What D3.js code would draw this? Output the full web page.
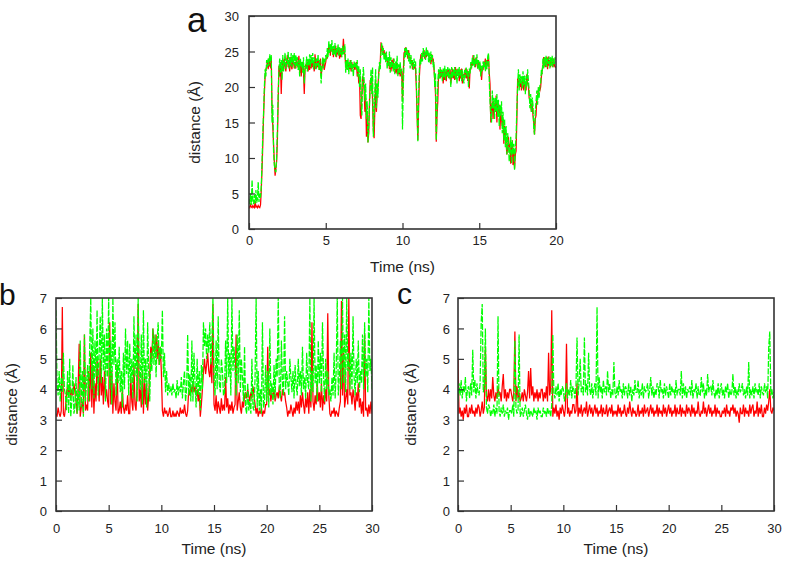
<!DOCTYPE html>
<html>
<head>
<meta charset="utf-8">
<script src="https://cdnjs.cloudflare.com/ajax/libs/d3/7.8.5/d3.min.js"></script>
<style>
  html, body { margin: 0; padding: 0; background: #fff; }
  svg { display: block; font-family: "Liberation Sans", Arial, Helvetica, sans-serif; }
</style>
</head>
<body>
<svg id="chart" width="787" height="561"></svg>
<script>
// ---------- DATA ----------
// Panel a: time 0..20 ns, one value every 0.05 ns
const greenA = [
 4.2,3.5,5.0,3.4,6.9,4.0,3.5,4.8,3.6,5.5, 3.7,4.2,6.6,3.8,5.0,4.4,6.0,9.5,13.5,16.5,
 20,22.5,21.5,23.8,22.8,24,23,24.6,23.5,24.5, 15,17.5,11,9,8.3,8,10,14,19,22.5,
 24,22,23.8,21,24.5,22.2,23.5,24.8,22.5,24, 23.2,25,22.6,24.2,23,24.8,22.8,24.5,23.2,24.8,
 22.5,24.5,23,24.2,22.4,23.8,21.5,24,22.8,23.5, 22,24.2,20.5,23,22.6,24.3,22.2,24,23,24.6,
 22.8,24.5,23.2,24.8,22.5,24.2,23.6,22.4,24,23, 24.6,22.4,23.8,22.8,20.5,23,24.2,22.6,24,23.5,
 24.5,23.8,25.5,24.2,26.5,24.8,26,25,26.6,24.5, 25.8,24.6,26.2,24.2,25.5,24.8,26,24.4,25.6,24.6,
 25.5,24.2,25.8,24.6,25.2,26,22,23.8,22.4,24, 21.8,23.5,22.6,23.8,22.2,23.2,21.5,23.6,22.8,23.4,
 22.5,23.8,21.5,23,20,22.5,18,16,20.5,22.8, 21,18,20.5,15.5,18,12.2,14,17.5,20,22.5,
 19,22.8,13,16,19.5,22.5,17,20.5,18.5,21.5, 23.5,22.5,25,26.2,24.5,25.5,23.8,24.8,23.5,25,
 22.5,24.2,23,25,22,24.2,22.8,23.5,22.2,24, 21.8,23.6,22.5,24.4,21.5,23.2,22,23.5,21.8,22.6,
 14,20,23.5,25.5,24.2,25.6,24.5,25.2,23.6,24.8, 22.6,24.5,23,23.8,22.4,24,22.8,23.6,21,17,
 12.3,19,22.5,24,23.2,24.8,23.6,25.5,24.2,25, 23.8,25.6,24.4,25.2,23.5,24.8,23.4,25,23.8,24.5,
 22.8,23.5,20,22,12.5,17,20.5,22.5,21.2,22.8, 21.5,22.4,20.8,22.6,21.4,23,21,22.5,21.6,22.8,
 21.2,22.6,21.5,20,22.8,21.2,22.5,21.6,22.8,21, 22.4,20.5,22.6,21.3,22.8,21.6,22.4,20.8,22.5,21.5,
 20.5,22.4,21.3,22.8,21.6,22.2,20,22.6,21.8,23.5, 22.6,24.2,23,24.5,22.8,24,23.2,24.6,22.6,23.8,
 22.4,23.6,21.5,23,22.2,23.6,22.8,23.5,22.2,23.8, 22.5,24.2,24.8,21,18,16,15,19.5,17,18.5,
 15.5,18.5,16.5,19,15.8,18.2,14.5,17.5,16,18, 13.5,16.5,12.5,15.5,11.5,14.5,10.5,13.5,12,9.5,
 11,13,9.2,12.5,10.5,12,8.3,11.5,13,17, 20,22.5,19.5,21.8,20.5,21.5,19.8,22.2,20.2,21.6,
 19,21.5,20,22.5,21,19.5,17,19,16.5,18.5, 17.5,14.2,13.3,16.5,18,19.5,17.5,20,18.5,20.2,
 20.5,22.5,21.8,24,22.6,24.2,23,24.4,22.8,24, 23.2,24.3,22.6,24.2,23,24.4,22.8,24,23.2,24.2,
 23.5
];
const redA = [
 3.2,3.0,3.4,3.1,3.0,3.3,3.1,3.0,4.0,3.1, 3.2,3.0,3.3,3.1,3.0,3.4,5.5,8.5,12,16,
 19,21.5,22.5,22.8,23.5,22.5,24,23,22.8,24.2, 17,14.5,12,9.5,7.5,8.5,9.5,12.5,18,23,
 21.5,23.5,19,22.8,23.8,22.5,24,23,22.2,23.5, 24.5,22.8,23.8,22.2,24.2,23,22.5,24,23.5,22.6,
 23.5,22.6,24,23.2,22.8,24.4,22,23.2,21.5,22.8, 23.5,22.2,19,22.5,23.2,22.6,23.6,22.2,23.5,22.4,
 23.8,22.6,24.2,22.8,23.5,22.2,24.6,23,22.6,24, 22.8,23.8,22.4,24,21.5,22.6,23.2,24,22.4,23,
 23.5,24.5,24,25.5,24.8,25.8,24.4,26,25,25.6, 24.2,25.4,24.8,25.8,24.2,25.2,24.6,25.6,24,25.4,
 24.2,25.4,24.8,26.8,25,24.6,23,22.5,23.8,22.8, 23.2,22.5,23.8,22.2,23.5,22.6,23.2,22.8,22.4,23,
 23.5,21.5,22.6,20.5,21.5,16,15.5,19,21.5,21, 19.5,16.5,18.5,13,16,12.2,13.5,18,21,20.5,
 21.5,18,14,12.8,17,21,16.5,19,20,22, 22.8,23.5,26.3,25,25.8,24.5,25.2,24,24.8,23.6,
 24,23,23.8,22.5,23.5,22.2,23.8,22.6,24,22.4, 22.8,22,23.5,21.8,22.6,21.8,22.8,21.5,22.4,22.2,
 18,22,24.8,25,25.6,24.5,24.8,24,25.2,23.8, 24.2,23.2,23.8,22.5,23.5,22.6,23.2,22.4,20,16,
 12.5,17,21.5,23.5,24.6,23.8,24.4,24.8,25.2,24, 24.6,24.2,25.2,24.4,24.8,23.6,24.2,23.2,24.6,23.6,
 24,22.6,21,19,12.3,16,18,21.8,22.4,21.2, 22.5,21.4,22.2,20.5,22.4,21,22.2,20.8,22.5,21.5,
 22.4,21.2,22.5,20.5,21.8,22.6,21.2,22.4,21,22.8, 21.4,22.5,21.6,22.2,20.8,22.5,21.2,22.6,20.5,21.8,
 21.5,21.8,22.6,21.2,22.5,20.8,22.2,19.8,22.4,22.5, 23.5,23,24.5,23.2,24,22.8,24.2,23.5,22.6,23.2,
 23.5,22.2,23,21,22.6,22.5,23.6,23.2,24,22.5, 23.8,23,24.5,22,20.5,15,17,18,15.5,18,
 17,16.5,18.8,15,17.8,16.5,17.5,14,16.5,15.5, 14.5,15.5,12,14.5,13.5,12,10.5,11.5,13,11.5,
 12,9.2,11,12.5,9,11,8.5,10.5,11,15.5, 21,20.8,20.5,20,21.2,19.5,20.8,21,19.5,20.6,
 20.5,19.5,21.8,20.5,20.2,18.5,18,17.5,16.5,17.8, 16,15,13.3,15.5,16,18.5,18.8,19.5,19.8,19.5,
 20,21.5,22.4,23,24.2,23.2,22.8,23.8,24.2,22.5, 24.3,23,23.8,22.8,24,23.4,22.8,24,23,22.8,
 22.8
];

// Panel b: time 0..30 ns, one value every 0.1 ns
const greenB = [
 6.6,4.2,3.8,4.6,3.6,4.4,3.9,5.2,4.0,3.8,
 3.3,4.6,3.2,5.0,3.1,3.6,4.8,3.2,3.4,4.4,
 3.2,4.0,3.3,5.6,3.4,4.6,3.1,5.8,3.6,4.2,
 4.8,3.6,5.4,7.0,4.0,6.0,3.7,5.6,4.4,6.6,
 3.8,5.2,6.4,4.2,7.0,4.6,5.8,3.6,6.0,4.4,
 7.0,4.0,5.6,3.5,7.0,4.8,6.2,3.8,5.0,4.2,
 5.4,3.9,4.6,3.4,5.2,4.0,6.0,4.5,5.6,3.8,
 5.5,4.2,5.0,3.7,6.4,4.4,5.8,3.6,7.0,4.6,
 4.0,5.8,3.5,6.6,4.2,5.0,3.4,6.2,4.6,3.6,
 5.2,4.6,6.0,4.8,5.8,4.4,5.6,6.2,4.8,5.4,
 5.0,6.6,4.4,5.2,3.9,4.6,3.8,4.2,3.9,4.1,
 3.8,4.2,3.9,4.0,3.7,4.3,3.8,4.1,3.9,4.4,
 3.7,4.2,4.6,3.6,4.0,5.8,3.8,4.5,3.6,5.6,
 3.6,5.2,4.2,3.4,5.0,3.8,4.6,3.3,4.8,4.0,
 6.2,5.4,6.0,5.0,5.8,5.2,6.2,4.8,5.6,7.0,
 4.4,3.8,5.6,4.0,6.4,4.2,3.9,5.0,4.6,3.8,
 3.9,5.6,4.2,7.0,4.4,5.2,3.8,7.0,4.6,5.4,
 4.6,3.8,5.8,4.2,6.6,3.9,5.0,4.4,3.6,5.4,
 3.4,3.2,4.2,3.3,3.6,3.2,5.0,3.4,3.3,4.4,
 7.0,3.4,4.6,3.3,4.0,3.2,6.2,3.4,3.6,4.8,
 3.6,4.6,3.4,6.0,3.8,4.2,3.5,4.8,3.7,5.0,
 4.4,7.0,4.0,3.7,5.6,4.2,3.8,6.4,4.0,4.6,
 4.2,3.8,5.0,4.4,3.9,4.6,3.7,4.8,4.1,3.8,
 5.0,4.1,4.6,3.8,5.4,4.0,4.4,3.7,5.2,4.2,
 4.0,7.0,3.6,4.6,3.9,7.0,4.2,4.8,3.6,5.6,
 4.2,5.2,3.9,6.2,4.4,3.6,5.0,4.0,4.6,3.8,
 4.0,3.6,4.4,3.8,5.2,3.7,4.6,7.0,3.8,4.4,
 5.6,4.0,7.0,4.2,5.8,3.9,7.0,4.6,5.2,4.0,
 5.2,4.0,6.4,4.4,3.8,5.0,4.2,5.6,3.9,4.6,
 4.2,5.8,4.0,6.2,4.4,5.0,3.9,7.0,4.6,5.0,
 4.0
];
const redB = [
 3.2,3.1,3.4,3.2,3.1,3.3,6.7,3.2,3.1,3.4,
 3.9,4.1,3.8,4.2,3.7,4.0,3.8,4.2,3.9,3.6,
 3.2,4.0,5.5,3.1,3.4,3.6,3.2,5.8,3.3,3.5,
 3.3,4.6,3.6,5.2,3.4,4.8,3.2,4.2,3.6,5.0,
 4.2,3.6,5.0,3.8,4.4,3.5,4.6,3.7,4.0,3.6,
 3.4,6.2,3.5,4.6,3.2,4.2,3.6,3.3,4.8,3.2,
 3.3,3.6,3.2,4.0,3.4,3.2,3.5,3.3,3.8,3.2,
 3.2,4.4,3.6,3.3,4.8,3.5,3.3,4.2,6.8,3.6,
 4.0,3.4,4.6,3.2,4.4,3.5,4.2,3.3,3.8,4.5,
 5.4,5.0,6.0,5.6,5.2,5.8,5.0,5.6,4.8,5.4,
 4.6,3.3,3.1,3.4,3.2,3.3,3.1,3.2,3.4,3.1,
 3.1,3.3,3.1,3.2,3.1,3.3,3.2,3.1,3.4,3.2,
 3.3,3.2,3.5,3.2,3.1,3.3,4.0,3.8,4.1,3.9,
 4.2,3.9,4.1,3.8,4.0,3.6,3.9,3.1,3.5,4.0,
 4.6,5.0,4.5,4.8,5.2,4.6,4.4,4.9,4.2,6.8,
 3.5,3.3,3.8,3.2,3.6,3.4,3.2,3.7,3.3,3.5,
 3.3,4.4,3.4,3.7,3.2,3.5,3.3,3.6,3.2,3.4,
 3.5,5.8,3.3,3.6,3.9,3.4,3.2,3.6,3.4,3.8,
 3.9,3.7,4.0,3.8,3.6,3.9,3.7,4.1,3.8,3.5,
 3.2,3.4,3.1,3.3,3.2,3.4,3.1,3.3,3.2,3.5,
 3.5,5.4,3.8,4.0,3.6,3.9,3.7,4.0,3.6,3.8,
 3.9,3.7,4.1,3.8,3.6,4.0,3.8,3.9,3.6,3.4,
 3.1,3.3,3.2,3.5,3.3,3.1,3.4,3.2,3.6,3.3,
 3.6,3.2,3.8,3.4,3.9,3.5,3.2,3.7,3.4,3.9,
 3.2,4.0,3.4,6.2,3.6,3.3,3.8,3.5,4.2,3.6,
 3.9,3.4,4.2,3.3,3.8,3.5,4.0,3.6,6.5,3.8,
 3.2,3.1,3.3,3.2,3.4,3.1,3.3,3.2,3.1,3.4,
 3.6,6.9,3.8,5.2,3.4,3.7,4.0,3.5,7.0,3.8,
 3.9,3.5,4.0,3.7,3.3,3.9,3.6,4.2,3.4,3.7,
 3.2,3.6,3.1,5.8,3.3,3.4,3.1,3.5,3.2,3.6,
 3.2
];

// Panel c: time 0..30 ns, one value every 0.1 ns
const greenC = [
 3.6,4.2,3.8,4.3,3.7,4.1,3.9,4.4,3.6,4.0,
 4.1,3.7,4.2,3.8,5.3,3.9,4.3,3.7,4.2,3.9,
 3.8,4.2,6.2,6.8,3.9,4.1,6.0,3.4,3.2,3.5,
 3.4,3.1,3.3,3.2,3.5,3.1,3.4,3.2,6.4,3.3,
 3.1,3.4,3.2,3.5,3.1,3.3,3.2,3.4,3.0,3.3,
 3.3,3.2,3.5,3.1,5.6,3.4,3.2,3.3,5.8,3.1,
 3.2,3.4,3.1,3.3,3.5,3.2,3.0,3.4,3.1,3.3,
 3.2,3.1,3.4,3.2,3.3,3.0,3.4,3.2,3.3,3.1,
 3.1,3.4,3.2,3.3,3.1,3.4,3.2,3.3,3.1,3.5,
 5.8,3.9,3.7,4.1,3.8,4.2,3.6,4.0,3.8,4.1,
 4.0,3.6,3.9,4.2,3.7,4.0,3.8,4.3,3.7,4.1,
 4.0,3.7,4.1,5.7,3.8,4.2,5.0,3.9,4.1,3.8,
 5.7,3.9,4.2,3.8,5.2,4.0,3.8,4.2,3.7,4.0,
 4.2,3.8,6.7,3.7,4.4,3.9,4.1,3.7,4.3,3.9,
 4.1,3.8,4.6,3.9,4.2,3.7,4.0,3.8,4.9,3.9,
 3.7,4.1,3.8,4.3,3.9,4.0,3.7,4.2,3.8,4.1,
 4.0,3.7,4.2,3.8,4.1,3.6,4.0,3.8,4.3,3.9,
 3.9,4.3,3.7,4.0,3.8,4.2,3.7,4.1,3.9,4.0,
 4.2,3.7,4.0,4.4,3.8,4.1,3.7,4.0,3.8,4.2,
 4.1,3.7,4.3,3.9,4.0,3.7,4.2,3.8,4.1,3.9,
 3.7,4.2,3.8,4.1,3.9,4.0,3.7,4.3,3.8,4.0,
 4.0,3.8,4.6,3.7,4.2,3.8,4.1,3.7,4.0,3.9,
 4.1,3.8,4.3,3.7,4.0,3.9,4.2,3.7,4.1,3.8,
 3.8,4.4,3.9,4.2,3.7,4.0,3.8,4.5,3.9,4.1,
 4.1,3.8,4.3,3.9,3.7,4.0,3.8,4.2,3.7,4.0,
 4.2,3.8,4.0,3.7,4.1,3.9,4.2,3.7,4.0,3.8,
 3.9,4.5,3.8,4.1,3.7,4.0,3.8,4.2,3.9,4.0,
 4.2,3.8,4.0,3.7,4.1,3.8,4.9,3.7,4.0,3.8,
 4.1,3.7,4.2,3.9,4.0,3.8,4.2,3.7,4.1,3.9,
 3.8,4.2,3.9,4.1,3.7,5.4,5.9,3.8,4.0,3.7,
 3.9
];
const redC = [
 5.0,3.2,3.4,3.1,3.3,3.0,3.4,3.2,3.5,3.1,
 3.1,3.4,3.2,3.5,3.2,3.3,3.1,3.4,3.2,3.5,
 3.4,3.1,3.3,3.6,3.2,3.4,5.4,3.8,3.6,4.0,
 3.6,4.0,3.7,4.4,3.8,3.6,3.9,3.7,4.1,3.8,
 3.9,3.6,4.1,4.5,3.7,4.0,3.6,3.9,3.7,4.0,
 4.0,3.8,3.6,3.9,5.9,3.6,4.1,3.7,3.9,3.6,
 3.7,3.9,3.6,4.0,3.8,3.6,3.9,4.6,3.7,4.7,
 3.8,4.1,3.6,3.9,3.7,4.0,3.6,3.9,3.7,4.0,
 4.0,3.6,3.9,3.7,4.1,3.6,5.2,3.8,4.0,6.6,
 3.1,3.4,3.2,3.5,3.1,3.3,3.0,3.4,3.2,3.5,
 3.3,3.1,3.4,5.5,3.2,3.4,3.1,3.3,3.2,3.5,
 3.5,3.2,3.3,4.2,3.1,3.4,3.2,3.5,3.1,3.3,
 3.4,3.2,3.6,3.1,3.3,3.5,3.2,3.4,3.1,3.3,
 3.5,3.2,3.4,3.1,3.3,3.2,3.5,3.1,3.4,3.2,
 3.2,3.5,3.1,3.3,3.4,3.2,3.5,3.1,3.3,3.2,
 3.3,3.1,3.5,3.2,3.4,3.1,3.3,3.2,3.5,3.2,
 3.1,3.4,3.2,3.6,3.3,3.1,3.4,3.2,3.3,3.1,
 3.2,3.5,3.1,3.3,3.2,3.4,3.1,3.5,3.2,3.3,
 3.4,3.1,3.3,3.5,3.2,3.4,3.1,3.3,3.2,3.5,
 3.1,3.4,3.2,3.3,3.1,3.5,3.2,3.4,3.1,3.3,
 3.5,3.2,3.4,3.1,3.3,3.2,3.5,3.1,3.4,3.2,
 3.2,3.5,3.1,3.4,3.2,3.3,3.1,3.5,3.2,3.4,
 3.3,3.1,3.5,3.2,3.4,3.1,3.3,3.2,3.6,3.2,
 3.1,3.3,3.2,3.6,3.2,3.4,3.1,3.3,3.5,3.2,
 3.4,3.1,3.3,3.2,3.5,3.1,3.4,3.2,3.3,3.1,
 3.1,3.3,3.2,3.4,3.1,3.5,3.2,3.3,3.1,3.4,
 3.3,3.5,3.2,3.4,3.1,3.3,3.2,2.9,3.4,3.2,
 3.2,3.5,3.1,3.4,3.2,3.3,3.1,3.5,3.2,3.4,
 3.5,3.1,3.3,3.2,3.6,3.1,3.4,3.2,3.5,3.1,
 3.1,3.4,3.2,3.5,3.3,3.6,4.0,3.3,3.2,3.4,
 3.3
];

// Tick values
const xTicksA = [0, 5, 10, 15, 20];
const yTicksA = [0, 5, 10, 15, 20, 25, 30];
const xTicksBC = [0, 5, 10, 15, 20, 25, 30];
const yTicksBC = [0, 1, 2, 3, 4, 5, 6, 7];

// ---------- LAYOUT / STYLE ----------
const panels = [
  { letter: "a", red: redA, green: greenA, xMax: 20, yMax: 30,
    xTicks: xTicksA, yTicks: yTicksA,
    box: { l: 249, r: 556, t: 16, b: 229 },
    letterPos: { x: 187, y: 32, size: 35 },
    xTickBase: 245, xLabelBase: 272, yLabelX: 195, yTickGap: 10 },
  { letter: "b", red: redB, green: greenB, xMax: 30, yMax: 7,
    xTicks: xTicksBC, yTicks: yTicksBC,
    box: { l: 56, r: 372, t: 298, b: 511 },
    letterPos: { x: -1, y: 305, size: 30 },
    xTickBase: 533, xLabelBase: 554, yLabelX: 12, yTickGap: 9 },
  { letter: "c", red: redC, green: greenC, xMax: 30, yMax: 7,
    xTicks: xTicksBC, yTicks: yTicksBC,
    box: { l: 458, r: 774, t: 298, b: 511 },
    letterPos: { x: 397, y: 304, size: 30 },
    xTickBase: 533, xLabelBase: 554, yLabelX: 411, yTickGap: 8 }
];

const svg = d3.select("#chart");
const frameColor = "#333";

panels.forEach((p, pi) => {
  const B = p.box;
  const x = d3.scaleLinear().domain([0, p.xMax]).range([B.l, B.r]);
  const y = d3.scaleLinear().domain([0, p.yMax]).range([B.b, B.t]);

  const g = svg.append("g");
  const clipId = "clip" + pi;
  svg.append("clipPath").attr("id", clipId)
    .append("rect").attr("x", B.l).attr("y", B.t)
    .attr("width", B.r - B.l).attr("height", B.b - B.t);

  const mk = arr => {
    const dt = p.xMax / (arr.length - 1);
    return d3.line().x((d, i) => x(i * dt)).y(d => y(d))(arr);
  };

  const lines = g.append("g").attr("clip-path", `url(#${clipId})`);
  lines.append("path")
    .attr("d", mk(p.red)).attr("fill", "none")
    .attr("stroke", "#ff0000").attr("stroke-width", 1.25);
  lines.append("path")
    .attr("d", mk(p.green)).attr("fill", "none")
    .attr("stroke", "#00ff00").attr("stroke-width", 1.25)
    .attr("stroke-dasharray", "6,1.5");

  // Axes (inward ticks, left & bottom)
  const xAxis = d3.axisBottom(x).tickValues(p.xTicks).tickSize(-6).tickPadding(0).tickFormat(d3.format("d"));
  const yAxis = d3.axisLeft(y).tickValues(p.yTicks).tickSize(-6).tickPadding(0).tickFormat(d3.format("d"));

  const gx = g.append("g").attr("transform", `translate(0,${B.b})`).call(xAxis);
  gx.select(".domain").remove();
  gx.selectAll("line").attr("stroke", frameColor).attr("stroke-width", 1.2);
  gx.selectAll("text").attr("y", p.xTickBase - B.b).attr("dy", 0)
    .attr("font-size", 13).attr("fill", "#222").attr("font-family", "Liberation Sans, Arial, sans-serif");

  const gy = g.append("g").attr("transform", `translate(${B.l},0)`).call(yAxis);
  gy.select(".domain").remove();
  gy.selectAll("line").attr("stroke", frameColor).attr("stroke-width", 1.2);
  gy.selectAll("text").attr("x", -p.yTickGap).attr("dy", "0.36em")
    .attr("font-size", 13).attr("fill", "#222").attr("font-family", "Liberation Sans, Arial, sans-serif");

  // Frame
  g.append("rect").attr("x", B.l).attr("y", B.t)
    .attr("width", B.r - B.l).attr("height", B.b - B.t)
    .attr("fill", "none").attr("stroke", frameColor).attr("stroke-width", 1.6);

  // Axis titles
  g.append("text").attr("x", (B.l + B.r) / 2).attr("y", p.xLabelBase)
    .attr("text-anchor", "middle").attr("font-size", 15.5).attr("fill", "#222")
    .text("Time (ns)");
  g.append("text")
    .attr("transform", `translate(${p.yLabelX},${(B.t + B.b) / 2}) rotate(-90)`)
    .attr("text-anchor", "middle").attr("dy", "0.35em")
    .attr("font-size", 15.5).attr("fill", "#222")
    .text("distance (Å)");

  // Panel letter
  g.append("text").attr("x", p.letterPos.x).attr("y", p.letterPos.y)
    .attr("font-size", p.letterPos.size).attr("fill", "#111")
    .text(p.letter);
});
</script>
</body>
</html>
